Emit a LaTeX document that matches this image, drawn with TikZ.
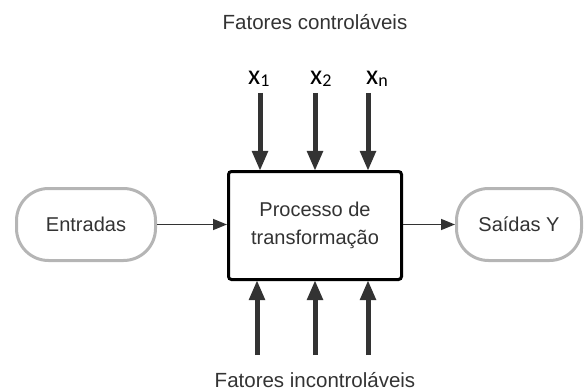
\documentclass[tikz,border=0pt]{standalone}
\usepackage{fontspec}
\setmainfont{Liberation Sans}
\newfontfamily\calfont{Carlito}
\usetikzlibrary{arrows.meta}
\definecolor{txtgray}{HTML}{333333}
\definecolor{pillgray}{HTML}{B5B5B5}
\definecolor{arrowgray}{HTML}{333333}

\begin{document}
\begin{tikzpicture}[x=1pt,y=-1pt,
  lbl/.style={text=txtgray,font=\fontsize{20.5}{28}\selectfont,anchor=base,inner sep=0pt},
  pill/.style={draw=pillgray,line width=3pt,rounded corners=32pt,
    text=txtgray,font=\fontsize{20}{28}\selectfont,inner sep=0pt},
  procbox/.style={draw=black,line width=3pt,rounded corners=3pt,fill=white,
    minimum width=173pt,minimum height=108pt,inner sep=0pt,
    text=txtgray,font=\fontsize{20}{28}\selectfont,align=center},
  varrow/.style={draw=arrowgray,line width=5pt,
    -{Triangle[width=15pt,length=20pt]},shorten >=-1pt},
  harrow/.style={draw=arrowgray,line width=1.5pt,
    -{Triangle[width=11pt,length=14pt]}},
  xlbl/.style={anchor=base west,inner sep=0pt,font=\calfont\fontsize{28}{28}\selectfont},
  xsub/.style={}
]
\useasboundingbox (0,0) rectangle (588,390);

% main process block and the two terminals
\node[procbox] (box) at (315,225.5) {Processo de\\transformação};
\node[pill,minimum width=139pt,minimum height=72pt] (entr) at (86,224.5) {Entradas};
\node[pill,minimum width=125pt,minimum height=72pt] (said) at (519,224.5) {Saídas Y};

% inputs and outputs
\draw[harrow] (entr.east) -- (entr.east -| box.west);
\draw[harrow] (entr.east -| box.east) -- (said.west |- entr.east);

% controllable factors
\newcommand{\xsubscript}[1]{{\fontsize{18}{18}\selectfont\raisebox{-2pt}{#1}}}
\node[lbl] (ctrl) at (315,30) {Fatores controláveis};
\node[xlbl] (x1) at (248,85) {x\xsubscript{1}};
\node[xlbl] (x2) at (310,85) {x\xsubscript{2}};
\node[xlbl] (xn) at (366,85) {x\xsubscript{n}};
\coordinate (t1) at (260,93);
\coordinate (t2) at (315,93);
\coordinate (t3) at (368,93);
\foreach \c in {t1,t2,t3}
  \draw[varrow] (\c) -- (\c |- box.north);

% uncontrollable factors
\node[lbl] (unctrl) at (315,387) {Fatores incontroláveis};
\coordinate (b1) at (257,355);
\coordinate (b2) at (315,355);
\coordinate (b3) at (368,355);
\foreach \c in {b1,b2,b3}
  \draw[varrow] (\c) -- (\c |- box.south);
\end{tikzpicture}
\end{document}
